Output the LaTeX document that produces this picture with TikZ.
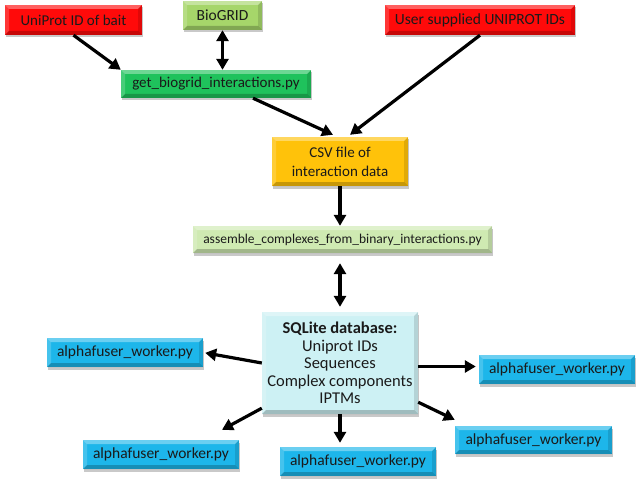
\documentclass[tikz,border=0pt]{standalone}
\usepackage{fontspec}
\setmainfont{Carlito}
\usetikzlibrary{arrows.meta,shadows,calc}
\definecolor{txt}{HTML}{1A1A1A}
\definecolor{cred}{HTML}{FF0A0A}
\definecolor{clgreen}{HTML}{A6D66A}
\definecolor{cgreen}{HTML}{1FC25C}
\definecolor{cgold}{HTML}{FFC20A}
\definecolor{cpale}{HTML}{CFEAB2}
\definecolor{ccyan}{HTML}{CDF1F4}
\definecolor{cblue}{HTML}{1DB6EA}
\tikzset{
  bevelbox/.style={draw=none, fill=#1, text=txt, align=center,
    font=\fontsize{15}{19}\selectfont, inner sep=0pt,
    drop shadow={shadow xshift=1pt, shadow yshift=-2.5pt, opacity=0.35, fill=black!60},
    path picture={
      \fill[white,opacity=0.35] (path picture bounding box.north west) -- (path picture bounding box.north east)
        -- ([xshift=-4pt,yshift=-4pt]path picture bounding box.north east) -- ([xshift=4pt,yshift=-4pt]path picture bounding box.north west) -- cycle;
      \fill[white,opacity=0.18] (path picture bounding box.north west) -- ([xshift=4pt,yshift=-4pt]path picture bounding box.north west)
        -- ([xshift=4pt,yshift=4pt]path picture bounding box.south west) -- (path picture bounding box.south west) -- cycle;
      \fill[black,opacity=0.22] (path picture bounding box.south west) -- (path picture bounding box.south east)
        -- ([xshift=-4pt,yshift=4pt]path picture bounding box.south east) -- ([xshift=4pt,yshift=4pt]path picture bounding box.south west) -- cycle;
      \fill[black,opacity=0.12] (path picture bounding box.north east) -- ([xshift=-4pt,yshift=-4pt]path picture bounding box.north east)
        -- ([xshift=-4pt,yshift=4pt]path picture bounding box.south east) -- (path picture bounding box.south east) -- cycle;
    }},
  worker/.style={bevelbox=cblue, minimum width=156pt, minimum height=29pt, font=\fontsize{15.5}{19}\selectfont},
  conn/.style={line width=3.2pt, black, -{Triangle[length=11pt,width=12pt]}},
  biconn/.style={line width=3.2pt, black, {Triangle[length=11pt,width=12pt]}-{Triangle[length=11pt,width=12pt]}},
}
\begin{document}
\begin{tikzpicture}[x=1pt,y=-1pt]
\useasboundingbox (0,0) rectangle (640,484);
\fill[white] (0,0) rectangle (640,484);

\node[bevelbox=cred, minimum width=137pt, minimum height=30pt] (bait) at (73.5,20) {UniProt ID of bait};
\node[bevelbox=clgreen, minimum width=79pt, minimum height=29pt, font=\fontsize{15.5}{19}\selectfont] (biogrid) at (222.5,15.5) {BioGRID};
\node[bevelbox=cgreen, minimum width=190pt, minimum height=28pt] (getbg) at (216,84) {get\_biogrid\_interactions.py};
\node[bevelbox=cred, minimum width=190pt, minimum height=30pt, font=\fontsize{15.5}{19}\selectfont] (user) at (480,20) {User supplied UNIPROT IDs};
\node[bevelbox=cgold, minimum width=136pt, minimum height=49pt] (csv) at (340,161.5) {CSV file of\\interaction data};
\node[bevelbox=cpale, minimum width=299pt, minimum height=27pt, font=\fontsize{13.5}{17}\selectfont] (assemble) at (342.5,239.5) {assemble\_complexes\_from\_binary\_interactions.py};
\node[bevelbox=ccyan, minimum width=156pt, minimum height=102pt, font=\fontsize{16.5}{17.5}\selectfont] (sqlite) at (340,363) {\textbf{SQLite database:}\\Uniprot IDs\\Sequences\\Complex components\\IPTMs};
\node[worker] (w1) at (125,352.5) {alphafuser\_worker.py};
\node[worker] (w2) at (557,369.5) {alphafuser\_worker.py};
\node[worker] (w3) at (161,454.5) {alphafuser\_worker.py};
\node[worker] (w4) at (358,461.5) {alphafuser\_worker.py};
\node[worker, minimum width=157pt, minimum height=28pt] (w5) at (533.5,440) {alphafuser\_worker.py};

\draw[conn] (bait.south) -- (getbg.north west);
\draw[biconn] (biogrid.south) -- (biogrid.south |- getbg.north);
\draw[conn] ([xshift=37pt]getbg.south) -- ([xshift=-7pt,yshift=2pt]csv.north);
\draw[conn] (user.south) -- ([xshift=10pt,yshift=2pt]csv.north);
\draw[conn] (csv.south) -- (csv.south |- assemble.north);
\draw[biconn, shorten <=10pt, shorten >=5pt] (assemble.south -| sqlite.north) -- (sqlite.north);
\draw[conn, shorten >=2pt] (sqlite.west) -- (w1.east);
\draw[conn, shorten >=3pt] ([yshift=3pt]w2.west -| sqlite.east) -- ([yshift=3pt]w2.west);
\draw[conn] ([yshift=6pt]sqlite.south west) -- ([xshift=61pt,yshift=10pt]w3.north);
\draw[conn, shorten >=4pt] (sqlite.south) -- (sqlite.south |- w4.north);
\draw[conn] ([yshift=12pt]sqlite.south east) -- ([yshift=6pt]w5.north west);
\end{tikzpicture}
\end{document}
